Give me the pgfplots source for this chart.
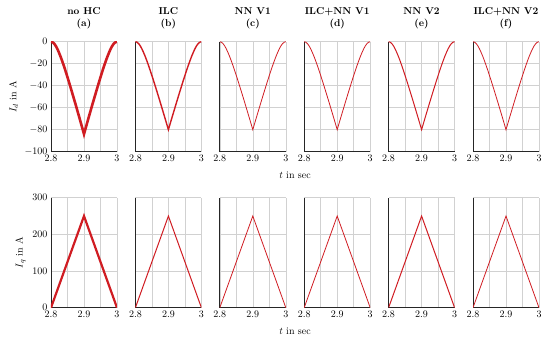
\documentclass[border=0pt]{standalone}
\usepackage{pgfplots}
\usepackage{pgfplotstable}
\pgfplotsset{compat=1.18}
\usepgfplotslibrary{groupplots}
\definecolor{cred}{RGB}{208,28,34}

\pgfplotstableread{
x y
2.800 0
2.805 -0.5
2.810 -1.8
2.815 -3.9
2.820 -6.7
2.825 -10.0
2.830 -13.6
2.835 -17.6
2.840 -21.8
2.845 -26.2
2.850 -30.8
2.855 -35.4
2.860 -40.2
2.865 -45.0
2.870 -49.9
2.875 -54.8
2.880 -59.8
2.885 -64.8
2.890 -69.8
2.895 -74.9
2.900 -80.0
2.905 -74.9
2.910 -69.8
2.915 -64.8
2.920 -59.8
2.925 -54.8
2.930 -49.9
2.935 -45.0
2.940 -40.2
2.945 -35.4
2.950 -30.8
2.955 -26.2
2.960 -21.8
2.965 -17.6
2.970 -13.6
2.975 -10.0
2.980 -6.7
2.985 -3.9
2.990 -1.8
2.995 -0.5
3.000 0
}\idtable

\pgfplotstableread{
x y
2.800 0
2.805 -0.6
2.810 -1.9
2.815 -4.1
2.820 -7.0
2.825 -10.5
2.830 -14.3
2.835 -18.5
2.840 -22.9
2.845 -27.5
2.850 -32.3
2.855 -37.2
2.860 -42.2
2.865 -47.3
2.870 -52.4
2.875 -57.5
2.880 -62.8
2.885 -68.0
2.890 -73.3
2.895 -78.6
2.900 -84.0
2.905 -78.6
2.910 -73.3
2.915 -68.0
2.920 -62.8
2.925 -57.5
2.930 -52.4
2.935 -47.3
2.940 -42.2
2.945 -37.2
2.950 -32.3
2.955 -27.5
2.960 -22.9
2.965 -18.5
2.970 -14.3
2.975 -10.5
2.980 -7.0
2.985 -4.1
2.990 -1.9
2.995 -0.6
3.000 0
}\idatable

\pgfplotstableread{
x y
2.8 0
2.9 250
3.0 0
}\iqtable

\begin{document}
\begin{tikzpicture}
\begin{groupplot}[
  group style={group size=6 by 2, horizontal sep=18.4pt, vertical sep=46pt,
    yticklabels at=edge left, ylabels at=edge left},
  width=66pt, height=110pt, scale only axis,
  xmin=2.8, xmax=3, xtick={2.8,2.9,3}, minor xtick={2.85,2.95},
  grid=both,
  grid style={black!18, line width=0.6pt},
  minor grid style={black!18, line width=0.6pt},
  major grid style={black!18, line width=0.6pt},
  axis x line*=bottom, axis y line*=left,
  axis line style={-, black!85, line width=0.7pt},
  tick style={draw=none},
  title style={font=\bfseries, align=center, yshift=3.5pt},
  ylabel style={xshift=0pt},
]
% ---- row 1: I_d ----
\nextgroupplot[title={no HC\\(a)}, ymin=-100, ymax=0, ytick={-100,-80,...,0}, ylabel={$I_d$ in A}]
\addplot[cred, line width=2.6pt, no markers] table {\idatable};
\nextgroupplot[title={ILC\\(b)}, ymin=-100, ymax=0, ytick={-100,-80,...,0}]
\addplot[cred, line width=1.4pt, no markers] table {\idtable};
\nextgroupplot[title={NN V1\\(c)}, ymin=-100, ymax=0, ytick={-100,-80,...,0},
  xlabel={$t$ in sec}, xlabel style={xshift=42.2pt, yshift=-3pt}]
\addplot[cred, line width=0.8pt, no markers] table {\idtable};
\nextgroupplot[title={ILC+NN V1\\(d)}, ymin=-100, ymax=0, ytick={-100,-80,...,0}]
\addplot[cred, line width=0.8pt, no markers] table {\idtable};
\nextgroupplot[title={NN V2\\(e)}, ymin=-100, ymax=0, ytick={-100,-80,...,0}]
\addplot[cred, line width=1.0pt, no markers] table {\idtable};
\nextgroupplot[title={ILC+NN V2\\(f)}, ymin=-100, ymax=0, ytick={-100,-80,...,0}]
\addplot[cred, line width=0.8pt, no markers] table {\idtable};
% ---- row 2: I_q ----
\nextgroupplot[ymin=0, ymax=300, ytick={0,100,200,300}, ylabel={$I_q$ in A}]
\addplot[cred, line width=2.2pt, no markers] table {\iqtable};
\nextgroupplot[ymin=0, ymax=300, ytick={0,100,200,300}]
\addplot[cred, line width=1.0pt, no markers] table {\iqtable};
\nextgroupplot[ymin=0, ymax=300, ytick={0,100,200,300},
  xlabel={$t$ in sec}, xlabel style={xshift=42.2pt, yshift=-3pt}]
\addplot[cred, line width=0.8pt, no markers] table {\iqtable};
\nextgroupplot[ymin=0, ymax=300, ytick={0,100,200,300}]
\addplot[cred, line width=0.8pt, no markers] table {\iqtable};
\nextgroupplot[ymin=0, ymax=300, ytick={0,100,200,300}]
\addplot[cred, line width=1.0pt, no markers] table {\iqtable};
\nextgroupplot[ymin=0, ymax=300, ytick={0,100,200,300}]
\addplot[cred, line width=0.8pt, no markers] table {\iqtable};
\end{groupplot}
\pgfresetboundingbox
\path[use as bounding box] ([xshift=-51pt,yshift=41.7pt]group c1r1.north west) rectangle ([xshift=11pt,yshift=-36.7pt]group c6r2.south east);
\end{tikzpicture}
\end{document}
